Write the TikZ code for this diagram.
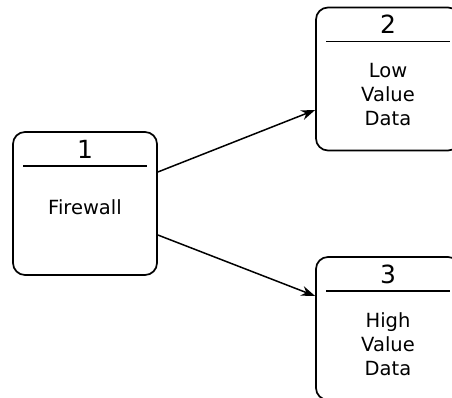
\documentclass[tikz,border=0pt]{standalone}
\usepackage{fontspec}
\setmainfont{DejaVu Sans}
\usetikzlibrary{arrows.meta,calc}
\tikzset{
  store/.style={draw=black, line width=1.7pt, rounded corners=12pt, minimum width=144pt, minimum height=143pt, inner sep=0pt},
  numtxt/.style={font=\fontsize{25}{28}\selectfont, inner sep=0pt, text=black},
  bodytxt/.style={font=\fontsize{19.5}{24}\selectfont, inner sep=0pt, align=center, text=black},
  divider/.style={line width=1.5pt, draw=black},
  flow/.style={line width=1.5pt, draw=black, -{Stealth[length=14pt,width=10pt]}}
}
\begin{document}
\begin{tikzpicture}[x=1pt,y=1pt]
\useasboundingbox (0,0) rectangle (452,398);
\clip (0,0) rectangle (452,398);
% boxes
\node[store] (b1) at (85,194.5) {};
\node[store] (b2) at (388,319) {};
\node[store] (b3) at (388,69.5) {};
% dividers
\draw[divider] ($(b1.north west)+(11,-35)$) coordinate (d1a) -- ($(b1.north east)+(-11,-35)$) coordinate (d1b);
\draw[divider] ($(b2.north west)+(11,-35)$) coordinate (d2a) -- ($(b2.north east)+(-11,-35)$) coordinate (d2b);
\draw[divider] ($(b3.north west)+(11,-35)$) coordinate (d3a) -- ($(b3.north east)+(-11,-35)$) coordinate (d3b);
% numbers
\node[numtxt] (n1) at ($(b1.north)+(0,-18)$) {1};
\node[numtxt] (n2) at ($(b2.north)+(0,-18)$) {2};
\node[numtxt] (n3) at ($(b3.north)+(0,-18)$) {3};
% labels
\node[bodytxt] (t1) at ($(b1.north)+(0,-76)$) {Firewall};
\node[bodytxt] (t2) at ($(b2.north)+(0,-88)$) {Low\\Value\\Data};
\node[bodytxt] (t3) at ($(b3.north)+(0,-88)$) {High\\Value\\Data};
% flows
\draw[flow] ([yshift=31.5pt]b1.east) -- ([yshift=-31pt]b2.west);
\draw[flow] ([yshift=-31.5pt]b1.east) -- ([yshift=32.5pt]b3.west);
\end{tikzpicture}
\end{document}
